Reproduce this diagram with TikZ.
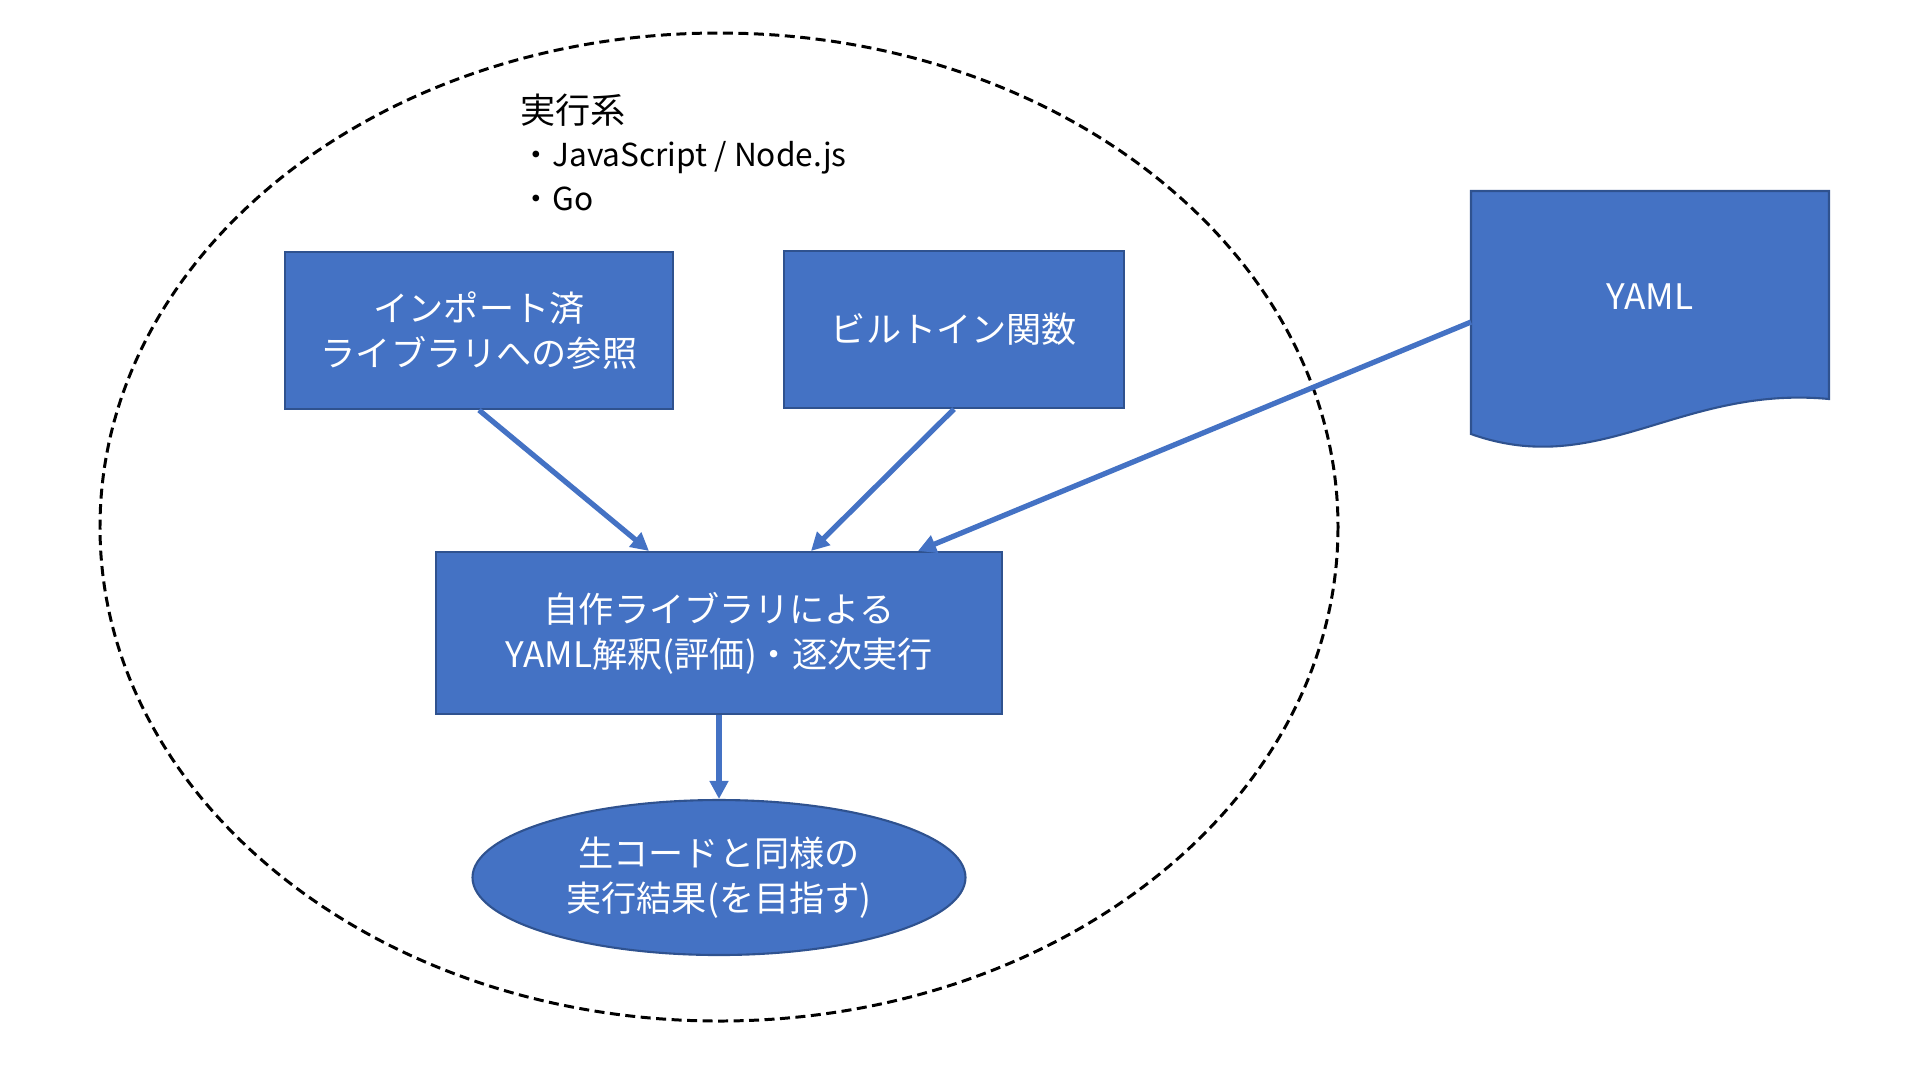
\documentclass[tikz,border=0pt]{standalone}
\usepackage{fontspec}
\setmainfont{Noto Sans CJK JP}
\usetikzlibrary{shapes.geometric,arrows.meta}

\definecolor{boxblue}{HTML}{4472C4}
\definecolor{edgeblue}{HTML}{2F528F}

\begin{document}
\begin{tikzpicture}[x=0.1mm,y=-0.1mm,
	box/.style={draw=edgeblue,line width=0.6pt,fill=boxblue,text=white,align=center,
		font=\fontsize{10}{12.8}\selectfont,inner sep=0pt},
	link/.style={draw=boxblue,line width=1.5pt,-{Triangle[length=1.8mm,width=1.8mm]}}]
	\useasboundingbox (0,0) rectangle (1920,1080);

	\draw [dashed,dash pattern=on 1mm off 0.55mm,line width=0.85pt] (719,527) ellipse [x radius=619,y radius=494];

	\node (langs) [anchor=north west,align=left,inner sep=0pt,font=\fontsize{10}{12.4}\selectfont] at (520,93)
		{実行系\\{\fontsize{9}{12.4}\selectfont ・JavaScript / Node.js}\\{\fontsize{9}{12.4}\selectfont ・Go}};

	\node (imports) [box,minimum width=38.8mm,minimum height=15.7mm] at (479,330.5) {インポート済\\ライブラリへの参照};
	\node (builtin) [box,minimum width=34mm,minimum height=15.7mm] at (954,329.5) {ビルトイン関数};
	\node (runner) [box,minimum width=56.6mm,minimum height=16.2mm] at (719,633) {自作ライブラリによる\\YAML解釈(評価)・逐次実行};
	\node (result) [box,ellipse,minimum width=49.3mm,minimum height=15.5mm] at (719,877.5) {生コードと同様の\\実行結果(を目指す)};

	% YAML document
	\draw [draw=edgeblue,line width=0.6pt,fill=boxblue] (1471,191) -- (1829,191) -- (1829,399)
		.. controls (1680,385) and (1600,480) .. (1471,434) -- cycle;
	\node (yaml) [text=white,font=\fontsize{10}{12.8}\selectfont] at (1650,297) {YAML};
	\coordinate (yamlout) at (1471,322);

	\draw [link] (imports.south) -- ([xshift=-7mm]runner.north);
	\draw [link] (builtin.south) -- ([xshift=9.2mm]runner.north);
	\draw [link] (yamlout) -- ([xshift=19.9mm]runner.north);
	\draw [link] (runner.south) -- (result.north);
\end{tikzpicture}
\end{document}
